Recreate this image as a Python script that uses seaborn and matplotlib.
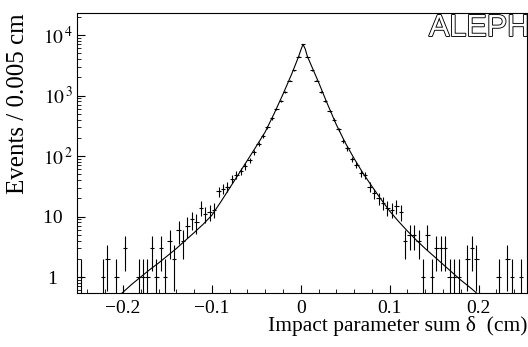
import numpy as np
import pandas as pd
import matplotlib
matplotlib.use("Agg")
import matplotlib.pyplot as plt
import matplotlib.patheffects as pe
from matplotlib.ticker import FixedLocator, FixedFormatter, LogLocator, NullFormatter, MultipleLocator
import seaborn as sns

# ---------------- data ----------------
bin_low = -0.25
bin_width = 0.005
counts = [
    1, 0, 0, 0, 0, 1, 2, 0, 1, 0,          # -0.2475 ... -0.2025
    3, 0, 0, 1, 1, 1, 3, 1, 3, 1,          # -0.1975 ... -0.1525
    4, 2, 6, 4, 7, 9, 8, 14, 11, 12,       # -0.1475 ... -0.1025
    13, 26, 29, 31, 42, 49, 57, 68, 85, 115,   # -0.0975 ... -0.0525
    160, 215, 300, 420, 590, 820, 1150, 1750, 2600, 4370,  # -0.0475 ... -0.0025
    7000, 4400, 2600, 1750, 1150, 800, 560, 400, 275, 175,  # 0.0025 ... 0.0475
    134, 88, 72, 52, 48, 31, 24, 20, 17, 14,   # 0.0525 ... 0.0975
    13, 15, 12, 4, 5, 5, 4, 1, 5, 1,       # 0.1025 ... 0.1475
    3, 3, 3, 1, 1, 1, 0, 2, 3, 2,          # 0.1525 ... 0.1975
    0, 0, 0, 0, 1, 0, 2, 1, 0, 1,          # 0.2025 ... 0.2475
]

fit_x = [-0.215, -0.21, -0.20, -0.19, -0.18, -0.17, -0.16, -0.15, -0.14, -0.13,
         -0.12, -0.11, -0.10, -0.09, -0.08, -0.07, -0.06, -0.05, -0.04, -0.03,
         -0.02, -0.01, -0.0025, 0.0, 0.0025, 0.005, 0.0075, 0.01, 0.02, 0.03,
         0.04, 0.05, 0.06, 0.07, 0.08, 0.09, 0.10, 0.11, 0.12, 0.13,
         0.14, 0.15, 0.16, 0.17, 0.18, 0.19, 0.20, 0.21]
fit_y = [0.35, 0.42, 0.56, 0.76, 1.0, 1.32, 1.70, 2.24, 2.95, 4.0,
         5.4, 7.4, 10.5, 17.4, 29.5, 50, 85, 145, 250, 500,
         1050, 2300, 4370, 5600, 7000, 5900, 4400, 3630, 1660, 725,
         330, 166, 91, 52, 31.6, 19.5, 12.3, 8.3, 5.75, 4.07,
         2.95, 2.19, 1.62, 1.20, 0.89, 0.68, 0.51, 0.39]

x_ticks = [-0.2, -0.1, 0.0, 0.1, 0.2]
x_tick_labels = ["\u22120.2", "\u22120.1", "0", "0.1", "0.2"]
y_ticks = [1, 10, 100, 1000, 10000]
y_tick_labels = ["1   ", "10  ", r"$10^{\,2}$", r"$10^{\,3}$", r"$10^{\,4}$"]

# ---------------- style ----------------
sns.set_theme(style="ticks")
plt.rcParams["font.family"] = ["Liberation Serif", "DejaVu Serif"]
plt.rcParams["mathtext.fontset"] = "stix"

fig = plt.figure(figsize=(5.28, 3.47), dpi=100)
fig.patch.set_facecolor("white")
ax = fig.add_axes([77 / 528, 1 - 293 / 347, (527 - 77) / 528, (293 - 13) / 347])
ax.set_facecolor("white")

centers = bin_low + bin_width * (np.arange(len(counts)) + 0.5)
df = pd.DataFrame({"x": centers, "n": np.array(counts, dtype=float)})
df = df[df["n"] > 0]

fit_df = pd.DataFrame({"x": fit_x, "y": fit_y})
sns.lineplot(data=fit_df, x="x", y="y", ax=ax, color="black", lw=0.8, sort=False)

ax.errorbar(df["x"], df["n"], xerr=bin_width / 2, yerr=np.sqrt(df["n"]),
            fmt="none", ecolor="black", elinewidth=0.8, capsize=0)

ax.set_yscale("log")
ax.set_xlim(-0.2517, 0.2545)
ax.set_ylim(0.544, 23100)

ax.xaxis.set_major_locator(FixedLocator(x_ticks))
ax.xaxis.set_major_formatter(FixedFormatter(x_tick_labels))
ax.xaxis.set_minor_locator(MultipleLocator(0.02))
ax.yaxis.set_major_locator(FixedLocator(y_ticks))
ax.yaxis.set_major_formatter(FixedFormatter(y_tick_labels))
ax.yaxis.set_minor_locator(LogLocator(base=10, subs=np.arange(2, 10)))
ax.yaxis.set_minor_formatter(NullFormatter())

ax.tick_params(axis="both", which="major", direction="in", length=6, width=0.8,
               color="black", labelsize=14, labelcolor="black")
ax.tick_params(axis="both", which="minor", direction="in", length=3, width=0.6, color="black")
ax.tick_params(axis="x", which="major", pad=5)
ax.tick_params(axis="y", which="major", pad=3)

for s in ax.spines.values():
    s.set_color("black")
    s.set_linewidth(0.8)

ax.set_xlabel("")
ax.set_ylabel("")

fig.text(18 / 528, 1 - 104 / 347, "Events / 0.005 cm", rotation=90,
         ha="center", va="center", fontsize=18, color="black")
fig.text(527 / 528, 1 - 326 / 347, "Impact parameter sum \u03b4  (cm)",
         ha="right", va="center", fontsize=15.5, color="black")

fig.text(429 / 528, 1 - 28 / 347, "ALEPH", ha="left", va="center",
         fontsize=22, color="white", family=["Liberation Sans", "DejaVu Sans"],
         path_effects=[pe.withStroke(linewidth=1.3, foreground="black")])

fig.savefig("out.png", dpi=100, facecolor="white")
